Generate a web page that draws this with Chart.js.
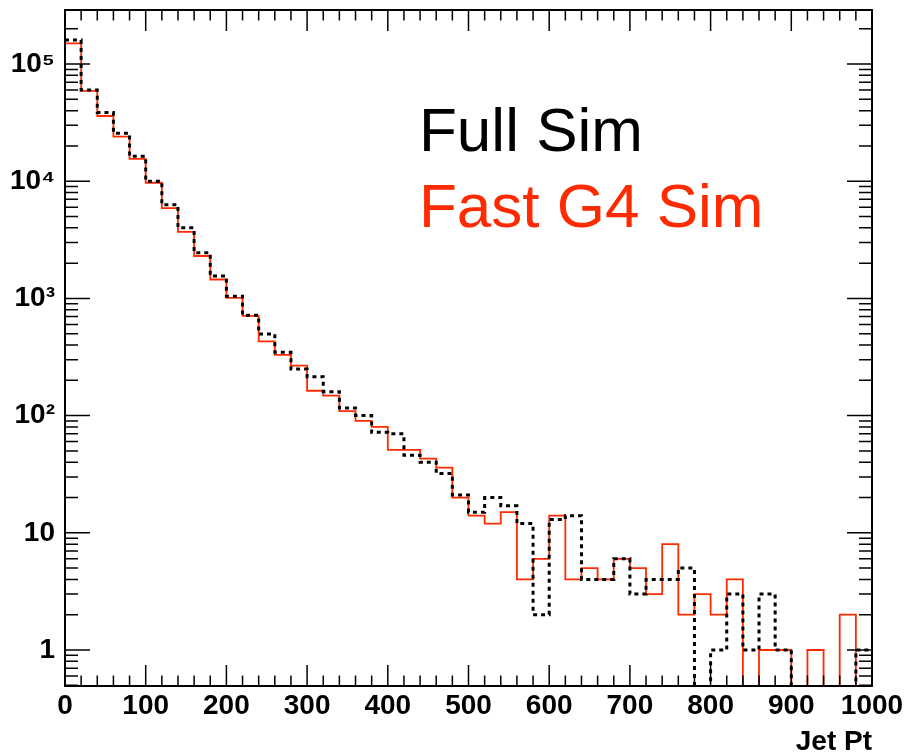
<!DOCTYPE html>
<html>
<head>
<meta charset="utf-8">
<script src="https://cdn.jsdelivr.net/npm/chart.js@4.4.1/dist/chart.umd.min.js"></script>
<style>
  html, body { margin: 0; padding: 0; background: #fff; }
  #wrap { width: 906px; height: 752px; }
</style>
</head>
<body>
<div id="wrap"><canvas id="jetpt"></canvas></div>
<script>
// Jet Pt histogram, 20 GeV bins
var binEdges = [0, 20, 40, 60, 80, 100, 120, 140, 160, 180, 200, 220, 240, 260, 280, 300, 320, 340, 360, 380,
  400, 420, 440, 460, 480, 500, 520, 540, 560, 580, 600, 620, 640, 660, 680, 700, 720, 740, 760, 780,
  800, 820, 840, 860, 880, 900, 920, 940, 960, 980, 1000];

var fullSim = [160000, 60000, 38500, 25700, 16300, 10000, 6300, 4000, 2450, 1550,
  1045, 720, 496, 347, 250, 215, 160, 116, 100, 72,
  70, 46, 40, 32, 21, 15, 20, 17, 12, 2,
  13, 14, 4, 4, 6, 3, 4, 4, 5, 0,
  1, 3, 1, 3, 1, 0, 0, 0, 0, 1];

var fastSim = [150000, 59000, 36000, 24000, 15500, 9700, 5900, 3700, 2300, 1450,
  1010, 710, 430, 330, 267, 163, 148, 109, 90, 80,
  51, 51, 43, 36, 20, 14, 12, 15, 4, 6,
  14, 4, 5, 4, 6, 5, 3, 8, 2, 3,
  2, 4, 0, 1, 1, 0, 1, 0, 2, 0];

var yTickValues = [1, 10, 100, 1000, 10000, 100000];
var yTickLabels = ['1', '10', '10²', '10³', '10⁴', '10⁵'];
var legendLabels = ['Full Sim', 'Fast G4 Sim'];

var RED = '#ff2a00';
var tickFont = { family: '"Liberation Sans", Arial, sans-serif', size: 28, weight: 'bold', lineHeight: 1 };

// empty bins go below the axis so the step drops to the frame
function toSteps(counts) {
  var pts = [];
  for (var i = 0; i < counts.length; i++) {
    pts.push({ x: binEdges[i], y: counts[i] > 0 ? counts[i] : 1e-3 });
  }
  pts.push({ x: binEdges[counts.length], y: pts[pts.length - 1].y });
  return pts;
}

// ROOT style frame: ticks inside on all four sides + text legend
var rootFrame = {
  id: 'rootFrame',
  afterDatasetsDraw: function (chart) {
    var ctx = chart.ctx, a = chart.chartArea, x = chart.scales.x, y = chart.scales.y;
    ctx.save();
    ctx.strokeStyle = '#000';
    ctx.lineWidth = 1.5;
    ctx.beginPath();
    for (var v = 0; v <= 1000; v += 20) {
      var px = x.getPixelForValue(v);
      var len = v % 100 === 0 ? 21 : 10.5;
      ctx.moveTo(px, a.bottom); ctx.lineTo(px, a.bottom - len);
      ctx.moveTo(px, a.top); ctx.lineTo(px, a.top + len);
    }
    for (var k = -1; k <= 5; k++) {
      for (var d = 1; d <= 9; d++) {
        var val = d * Math.pow(10, k);
        if (val < y.min || val > y.max) continue;
        var py = y.getPixelForValue(val);
        var l = d === 1 ? 25 : 13;
        ctx.moveTo(a.left, py); ctx.lineTo(a.left + l, py);
        ctx.moveTo(a.right, py); ctx.lineTo(a.right - l, py);
      }
    }
    ctx.stroke();
    ctx.lineWidth = 2;
    ctx.strokeRect(a.left, a.top, a.right - a.left, a.bottom - a.top);

    ctx.font = '62px "Liberation Sans", Arial, sans-serif';
    ctx.textAlign = 'left';
    ctx.textBaseline = 'alphabetic';
    ctx.fillStyle = '#000';
    ctx.fillText(legendLabels[0], 419, 151);
    ctx.fillStyle = RED;
    ctx.fillText(legendLabels[1], 419, 227);
    ctx.restore();
  }
};

new Chart(document.getElementById('jetpt').getContext('2d'), {
  type: 'line',
  data: {
    datasets: [
      {
        label: legendLabels[0],
        data: toSteps(fullSim),
        borderColor: '#000',
        borderWidth: 3,
        borderDash: [4, 4],
        stepped: true,
        pointRadius: 0,
        fill: false,
        order: 0
      },
      {
        label: legendLabels[1],
        data: toSteps(fastSim),
        borderColor: RED,
        borderWidth: 1.8,
        stepped: true,
        pointRadius: 0,
        fill: false,
        order: 1
      }
    ]
  },
  options: {
    responsive: true,
    maintainAspectRatio: false,
    animation: false,
    layout: { padding: { left: 0, right: 34, top: 10, bottom: 0 } },
    plugins: { legend: { display: false }, tooltip: { enabled: false } },
    scales: {
      x: {
        type: 'linear',
        min: 0,
        max: 1000,
        grid: { display: false, drawTicks: false },
        border: { display: false },
        ticks: {
          stepSize: 100, padding: 6, font: tickFont, color: '#000', maxRotation: 0, autoSkip: false,
          callback: function (v) { return String(v); }
        },
        title: { display: true, text: 'Jet Pt', align: 'end', font: tickFont, color: '#000', padding: { top: 0, bottom: -4 } },
        afterFit: function (s) { s.height = 66; s.paddingLeft = 0; s.paddingRight = 0; }
      },
      y: {
        type: 'logarithmic',
        min: 0.493,
        max: 2.89e5,
        grid: { display: false, drawTicks: false },
        border: { display: false },
        afterBuildTicks: function (s) {
          s.ticks = yTickValues.map(function (v) { return { value: v }; });
        },
        ticks: {
          padding: 10,
          font: tickFont,
          color: '#000',
          callback: function (v) {
            var i = yTickValues.indexOf(v);
            return i >= 0 ? yTickLabels[i] : '';
          }
        },
        afterFit: function (s) { s.width = 65; s.paddingTop = 0; s.paddingBottom = 0; }
      }
    }
  },
  plugins: [rootFrame]
});
</script>
</body>
</html>
